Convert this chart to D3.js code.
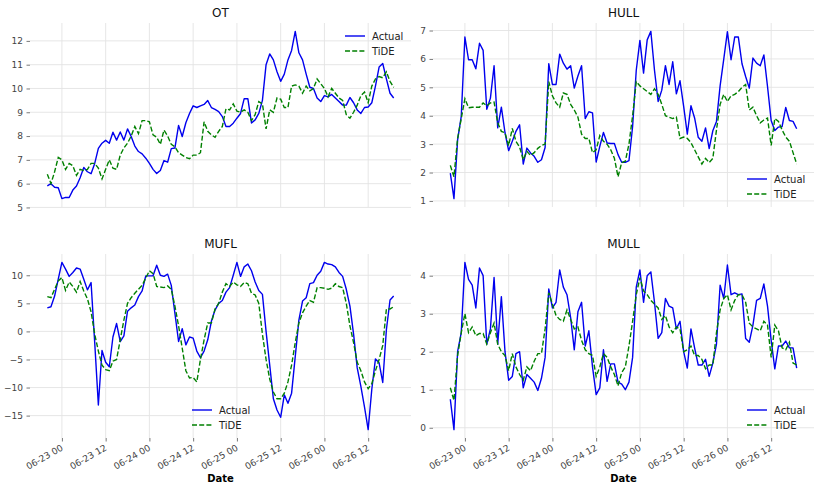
<!DOCTYPE html>
<html>
<head>
<meta charset="utf-8">
<script src="https://cdn.jsdelivr.net/npm/d3@7"></script>
<style>
body { margin: 0; background: #fff; }
text { font-family: "DejaVu Sans", sans-serif; }
</style>
</head>
<body>
<script>
var startTime = "2017-06-22T20:00:00";
var xTicks = ["2017-06-23T00:00:00", "2017-06-23T12:00:00", "2017-06-24T00:00:00", "2017-06-24T12:00:00",
  "2017-06-25T00:00:00", "2017-06-25T12:00:00", "2017-06-26T00:00:00", "2017-06-26T12:00:00"];
var seriesNames = ["Actual", "TiDE"];

var otTicks = [5, 6, 7, 8, 9, 10, 11, 12];
var hullTicks = [1, 2, 3, 4, 5, 6, 7];
var muflTicks = [-15, -10, -5, 0, 5, 10];
var mullTicks = [0, 1, 2, 3, 4];

var otActual = [5.91, 6.0, 5.85, 5.83, 5.37, 5.42, 5.42, 5.73, 5.9, 6.25,
  6.68, 6.5, 6.42, 6.85, 7.48, 7.7, 7.82, 7.7, 8.16, 7.83,
  8.17, 7.83, 8.3, 7.98, 7.58, 7.35, 7.25, 7.07, 6.85, 6.6,
  6.43, 6.55, 6.97, 6.9, 7.47, 7.5, 8.45, 7.98, 8.56, 8.95,
  9.27, 9.2, 9.27, 9.33, 9.49, 9.2, 9.12, 9.03, 8.82, 8.4,
  8.4, 8.54, 8.75, 8.95, 9.57, 9.57, 8.55, 8.68, 8.95, 9.5,
  11.0, 11.45, 11.2, 10.7, 10.3, 10.6, 11.2, 11.6, 12.4, 11.5,
  11.2, 10.6, 10.05, 10.0, 9.6, 9.45, 9.7, 9.65, 9.75, 9.6,
  9.45, 9.3, 9.3, 9.62, 9.4, 9.1, 8.95, 9.2, 9.22, 9.4,
  10.1, 10.9, 11.05, 10.4, 9.8, 9.6];
var otTide = [6.4, 6.0, 6.5, 7.1, 7.0, 6.6, 6.85, 6.75, 6.35, 6.6,
  6.55, 6.6, 6.85, 6.85, 6.65, 6.2, 6.6, 7.0, 6.65, 6.6,
  7.2, 7.5, 7.7, 8.0, 8.4, 8.1, 8.65, 8.65, 8.6, 8.05,
  7.95, 7.65, 8.25, 8.0, 7.65, 7.55, 7.3, 7.2, 7.1, 7.05,
  7.2, 7.2, 7.3, 8.6, 8.2, 8.05, 7.95, 8.2, 8.4, 9.15,
  9.1, 9.35, 9.05, 9.0, 9.1, 9.0, 8.65, 8.9, 9.45, 9.35,
  8.3, 9.1, 9.0, 9.6, 9.55, 9.2, 9.2, 10.1, 10.15, 10.1,
  9.8, 10.1, 9.9, 10.0, 10.4, 10.2, 10.0, 9.65, 10.0, 9.8,
  9.6, 9.5, 8.9, 8.75, 9.0, 9.3, 9.7, 9.85, 9.4, 10.1,
  10.4, 10.5, 10.45, 10.7, 10.3, 10.05];

var hullActual = [1.98, 1.08, 3.15, 3.98, 6.77, 5.97, 5.97, 5.65, 6.55, 6.3,
  4.23, 4.62, 5.76, 3.57, 4.3, 3.4, 2.77, 3.1, 3.45, 3.68,
  2.3, 2.86, 2.69, 2.57, 2.36, 2.45, 2.88, 5.83, 5.1, 5.1,
  6.17, 5.85, 5.64, 5.76, 4.97, 5.4, 5.76, 3.9, 4.14, 4.1,
  2.37, 2.92, 3.41, 3.04, 3.02, 3.02, 2.63, 2.36, 2.36, 2.42,
  3.62, 5.6, 6.65, 5.5, 6.67, 6.97, 5.6, 4.5, 4.9, 5.76,
  5.1, 5.9, 4.77, 5.23, 4.33, 3.35, 4.35, 3.92, 3.24, 3.1,
  3.57, 2.84, 3.47, 3.8, 5.05, 5.99, 6.96, 5.97, 6.77, 6.77,
  5.83, 5.38, 4.97, 6.03, 5.85, 5.76, 6.14, 5.03, 3.83, 3.48,
  3.6, 3.62, 4.29, 3.83, 3.8, 3.54];
var hullTide = [2.25, 1.85, 3.2, 3.9, 4.6, 4.28, 4.3, 4.3, 4.3, 4.45,
  4.35, 4.45, 4.48, 3.75, 3.45, 3.4, 2.95, 3.55, 3.1, 2.9,
  2.45, 2.75, 2.6, 2.7, 2.85, 2.95, 3.0, 5.2, 4.7, 4.45,
  4.3, 4.8, 4.75, 4.4, 4.2, 3.95, 3.35, 3.2, 3.2, 2.7,
  2.8, 3.3, 3.1, 3.0, 2.8, 2.5, 1.85, 2.35, 2.4, 3.0,
  4.0, 5.2, 5.05, 4.95, 4.85, 4.75, 4.95, 4.75, 4.4, 4.0,
  3.95, 3.9, 3.95, 3.2, 3.25, 3.2, 3.05, 2.8, 2.55, 2.3,
  2.5, 2.35, 2.5, 3.5, 4.4, 4.75, 4.5, 4.7, 4.75, 4.85,
  5.0, 5.1, 4.2, 4.3, 4.0, 3.75, 3.85, 3.92, 2.95, 3.9,
  3.8, 3.5, 3.25, 3.1, 2.7, 2.3];

var muflActual = [4.2, 4.4, 6.3, 9.3, 12.3, 11.1, 9.8, 10.5, 11.3, 11.1,
  9.3, 7.4, 8.7, -2.0, -13.1, -3.4, -5.5, -6.3, -1.0, 1.4,
  -1.8, -0.8, 3.6, 4.2, 4.7, 6.2, 7.2, 9.9, 9.9, 9.9,
  11.8, 10.0, 9.8, 10.2, 8.2, 3.2, -1.8, 0.5, -2.4, -1.0,
  -1.2, -3.5, -4.7, -3.5, -1.5, 1.8, 3.8, 5.0, 5.5, 7.0,
  7.8, 10.0, 12.3, 9.8, 11.5, 12.0, 10.8, 8.8, 7.3, 6.6,
  0.0, -6.0, -12.0, -14.0, -15.3, -11.3, -12.8, -11.0, -4.5, 2.0,
  5.4, 6.0, 8.5, 8.7, 10.0, 10.7, 12.3, 12.0, 11.9, 11.5,
  10.5, 9.8, 7.5, 4.5, -0.5, -6.5, -9.8, -13.5, -17.5, -10.3,
  -4.9, -5.6, -9.1, 0.3, 5.6, 6.3];
var muflTide = [6.2, 6.0, 7.5, 9.0, 9.6, 7.3, 8.8, 8.0, 7.0, 8.9,
  7.2, 5.8, 3.5, -0.5, -3.5, -6.0, -6.8, -7.0, -5.3, -5.0,
  -1.5, 2.0, 5.0, 6.0, 6.8, 7.5, 8.2, 9.5, 10.8, 10.3,
  8.0, 7.9, 7.8, 8.1, 7.5, 4.5, 1.0, -3.0, -7.0, -8.3,
  -8.2, -9.0, -5.0, -1.5, 1.5, 1.5, 4.0, 5.0, 7.0, 8.5,
  8.0, 8.8, 8.3, 8.0, 8.7, 8.5, 6.8, 6.5, 5.0, -0.5,
  -5.0, -8.5, -10.8, -12.0, -12.0, -11.0, -9.0, -6.0, -2.0, 1.5,
  3.3, 4.5, 5.5, 5.2, 7.8, 7.8, 7.7, 7.5, 7.7, 8.5,
  8.0, 7.8, 5.0, 1.0, -2.0, -5.5, -7.0, -9.0, -10.2, -9.3,
  -7.0, -5.0, -2.5, 4.0, 4.0, 4.4];

var mullActual = [0.75, -0.05, 2.0, 2.5, 4.35, 3.9, 3.75, 3.15, 4.2, 4.0,
  2.2, 2.6, 3.95, 2.2, 3.45, 2.0, 1.25, 1.35, 1.95, 2.0,
  1.05, 1.4, 1.3, 1.2, 0.98, 1.3, 1.85, 3.65, 3.15, 3.3,
  4.15, 3.7, 3.5, 2.9, 2.05, 3.05, 3.3, 2.15, 2.55, 1.6,
  0.87, 1.05, 2.05, 1.22, 1.68, 1.68, 1.2, 1.15, 1.0, 1.2,
  1.85, 3.7, 4.15, 3.3, 4.0, 4.1, 3.3, 2.35, 2.5, 3.4,
  3.2, 3.15, 2.6, 2.8, 2.0, 1.57, 2.6, 2.1, 1.65, 1.65,
  1.8, 1.35, 1.7, 2.2, 3.75, 3.4, 4.28, 3.5, 3.55, 3.5,
  3.52, 2.35, 2.25, 2.7, 3.35, 3.4, 3.78, 3.2, 2.3, 1.55,
  2.15, 2.15, 2.28, 2.1, 2.1, 1.57];
var mullTide = [1.05, 0.72, 1.9, 2.5, 3.0, 2.5, 2.65, 2.42, 2.48, 2.48,
  2.2, 2.5, 2.75, 2.2, 2.0, 1.9, 1.5, 1.95, 1.6, 1.4,
  1.25, 1.6, 1.5, 1.75, 1.95, 1.95, 2.6, 3.55, 3.25, 2.95,
  2.85, 2.8, 3.1, 2.85, 2.6, 2.65, 2.3, 2.05, 1.95, 1.9,
  1.35, 1.6, 1.95, 1.85, 1.6, 1.4, 1.1, 1.45, 1.6, 2.15,
  2.8, 3.5, 3.95, 3.6, 3.5, 3.35, 3.25, 3.15, 2.85, 2.95,
  2.65, 2.5, 2.65, 2.6, 2.0, 2.05, 2.15, 1.9, 1.9, 1.8,
  1.55, 1.65, 1.65, 2.5, 3.1, 3.4, 3.5, 3.1, 3.35, 3.5,
  3.5, 3.3, 2.75, 2.65, 2.6, 2.55, 2.8, 2.7, 1.85, 2.7,
  2.55, 2.1, 2.05, 2.25, 1.7, 1.65];

var width = 828, height = 491;
var pw = 381, ph = 184;
var colors = ["#0000ee", "#008000"];
var gridColor = "#e3e3e3";

var svg = d3.select("body").append("svg")
    .attr("width", width)
    .attr("height", height);

var t0 = new Date(startTime);
var dates = otActual.map(function(d, i) { return d3.timeHour.offset(t0, i); });
var tickDates = xTicks.map(function(s) { return new Date(s); });

var panels = [
  {name: "OT", actual: otActual, tide: otTide, ticks: otTicks, left: 30, top: 23, legend: [345, 36], bottom: false},
  {name: "HULL", actual: hullActual, tide: hullTide, ticks: hullTicks, left: 433, top: 23, legend: [747, 179], bottom: false},
  {name: "MUFL", actual: muflActual, tide: muflTide, ticks: muflTicks, left: 30, top: 254, legend: [192, 410], bottom: true},
  {name: "MULL", actual: mullActual, tide: mullTide, ticks: mullTicks, left: 433, top: 254, legend: [747, 410], bottom: true}
];

function padExtent(values) {
  var e = d3.extent(values), m = (e[1] - e[0]) * 0.05;
  return [e[0] - m, e[1] + m];
}

panels.forEach(drawPanel);

function drawPanel(p) {
  var g = svg.append("g")
      .attr("transform", "translate(" + p.left + "," + p.top + ")");

  var x = d3.scaleTime()
      .domain(padExtent(dates.map(Number)).map(function(v) { return new Date(v); }))
      .range([0, pw]);
  var y = d3.scaleLinear()
      .domain(padExtent(p.actual.concat(p.tide)))
      .range([ph, 0]);

  g.append("g").selectAll("line").data(p.ticks).join("line")
      .attr("x1", 0).attr("x2", pw)
      .attr("y1", function(d) { return y(d); })
      .attr("y2", function(d) { return y(d); })
      .style("stroke", gridColor).style("stroke-width", 0.9);
  g.append("g").selectAll("line").data(tickDates).join("line")
      .attr("x1", function(d) { return x(d); })
      .attr("x2", function(d) { return x(d); })
      .attr("y1", 0).attr("y2", ph)
      .style("stroke", gridColor).style("stroke-width", 0.9);

  var yAxis = g.append("g")
      .call(d3.axisLeft(y).tickValues(p.ticks).tickSize(3.5).tickPadding(3.5).tickFormat(d3.format("d")));
  yAxis.select(".domain").remove();
  yAxis.selectAll("line").style("stroke", "#555").style("stroke-width", 0.8);
  yAxis.selectAll("text").style("fill", "#444").style("font-size", "9px")
      .style("font-family", "'DejaVu Sans', sans-serif");

  if (p.bottom) {
    var xAxis = g.append("g")
        .attr("transform", "translate(0," + ph + ")")
        .call(d3.axisBottom(x).tickValues(tickDates).tickSize(3.5).tickFormat(d3.timeFormat("%m-%d %H")));
    xAxis.select(".domain").remove();
    xAxis.selectAll("line").style("stroke", "#555").style("stroke-width", 0.8);
    xAxis.selectAll("text")
        .attr("x", 0).attr("y", 0).attr("dy", "0.71em")
        .attr("text-anchor", "end")
        .attr("transform", "translate(-2,6) rotate(-30)")
        .style("fill", "#444").style("font-size", "9px")
        .style("font-family", "'DejaVu Sans', sans-serif");

    g.append("text")
        .attr("x", pw / 2).attr("y", ph + 44)
        .attr("text-anchor", "middle")
        .style("font-size", "10px").style("font-weight", "bold")
        .text("Date");
  }

  var line = d3.line()
      .x(function(d, i) { return x(dates[i]); })
      .y(function(d) { return y(d); });

  g.append("path")
      .datum(p.actual)
      .attr("d", line)
      .style("fill", "none")
      .style("stroke", colors[0])
      .style("stroke-width", "1.4px")
      .style("stroke-linejoin", "round");
  g.append("path")
      .datum(p.tide)
      .attr("d", line)
      .style("fill", "none")
      .style("stroke", colors[1])
      .style("stroke-width", "1.4px")
      .style("stroke-dasharray", "5,2.2");

  g.append("text")
      .attr("x", pw / 2).attr("y", -6)
      .attr("text-anchor", "middle")
      .style("font-size", "12px").style("fill", "#111")
      .text(p.name);

  var lg = svg.append("g");
  seriesNames.forEach(function(s, i) {
    var ly = p.legend[1] + i * 15;
    lg.append("line")
        .attr("x1", p.legend[0]).attr("x2", p.legend[0] + 20)
        .attr("y1", ly).attr("y2", ly)
        .style("stroke", colors[i]).style("stroke-width", "1.4px")
        .style("stroke-dasharray", i == 1 ? "5,2.2" : null);
    lg.append("text")
        .attr("x", p.legend[0] + 27).attr("y", ly).attr("dy", "0.35em")
        .style("font-size", "10px").style("fill", "#222")
        .text(s);
  });
}
</script>
</body>
</html>
